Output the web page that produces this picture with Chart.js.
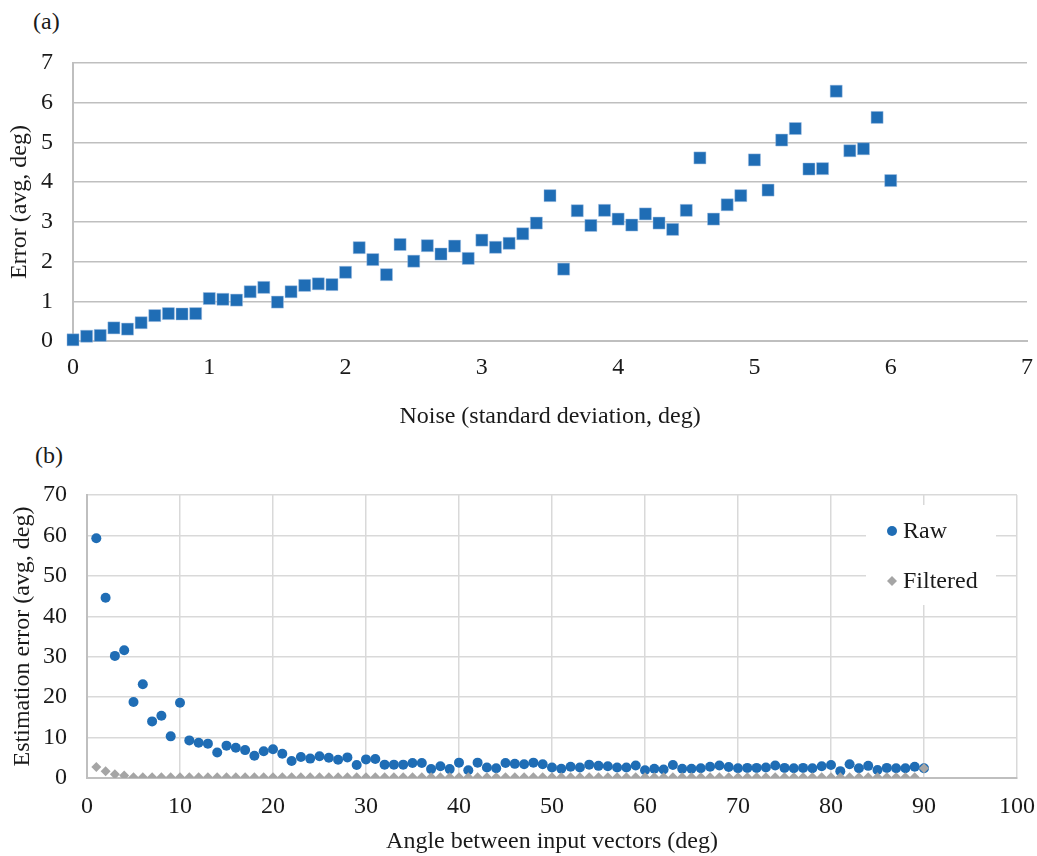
<!DOCTYPE html>
<html>
<head>
<meta charset="utf-8">
<title>Error charts</title>
<script src="https://cdn.jsdelivr.net/npm/chart.js@4.4.1/dist/chart.umd.min.js"></script>
<style>
  body { margin: 0; background: #fff; width: 1037px; height: 856px; overflow: hidden; font-family: 'Liberation Serif', 'Times New Roman', serif; }
  .panel-label { position: absolute; font-size: 24px; color: #1a1a1a; line-height: 28px; }
  .chart-box { position: absolute; left: 0; width: 1037px; }
</style>
</head>
<body>
<div class="panel-label" style="left:33px; top:7px;">(a)</div>
<div class="panel-label" style="left:35px; top:441px;">(b)</div>
<div class="chart-box" style="top:0; height:440px;"><canvas id="noiseChart"></canvas></div>
<div class="chart-box" style="top:440px; height:416px;"><canvas id="angleChart"></canvas></div>

<script>
// (a) average error vs. noise level
const noiseLevels = [
  0.0, 0.1, 0.2, 0.3, 0.4, 0.5, 0.6, 0.7, 0.8, 0.9,
  1.0, 1.1, 1.2, 1.3, 1.4, 1.5, 1.6, 1.7, 1.8, 1.9,
  2.0, 2.1, 2.2, 2.3, 2.4, 2.5, 2.6, 2.7, 2.8, 2.9,
  3.0, 3.1, 3.2, 3.3, 3.4, 3.5, 3.6, 3.7, 3.8, 3.9,
  4.0, 4.1, 4.2, 4.3, 4.4, 4.5, 4.6, 4.7, 4.8, 4.9,
  5.0, 5.1, 5.2, 5.3, 5.4, 5.5, 5.6, 5.7, 5.8, 5.9,
  6.0
];
const noiseError = [
  0.03, 0.12, 0.14, 0.33, 0.30, 0.46, 0.64, 0.69, 0.68, 0.69,
  1.07, 1.05, 1.03, 1.24, 1.35, 0.98, 1.24, 1.40, 1.44, 1.42,
  1.73, 2.35, 2.05, 1.67, 2.43, 2.01, 2.40, 2.19, 2.39, 2.08,
  2.54, 2.36, 2.46, 2.70, 2.97, 3.66, 1.81, 3.28, 2.91, 3.29,
  3.07, 2.92, 3.20, 2.97, 2.81, 3.29, 4.61, 3.07, 3.43, 3.66,
  4.56, 3.80, 5.06, 5.35, 4.33, 4.34, 6.29, 4.79, 4.84, 5.63,
  4.04
];

// (b) estimation error vs. angle between input vectors
const angles = [
  1, 2, 3, 4, 5, 6, 7, 8, 9, 10,
  11, 12, 13, 14, 15, 16, 17, 18, 19, 20,
  21, 22, 23, 24, 25, 26, 27, 28, 29, 30,
  31, 32, 33, 34, 35, 36, 37, 38, 39, 40,
  41, 42, 43, 44, 45, 46, 47, 48, 49, 50,
  51, 52, 53, 54, 55, 56, 57, 58, 59, 60,
  61, 62, 63, 64, 65, 66, 67, 68, 69, 70,
  71, 72, 73, 74, 75, 76, 77, 78, 79, 80,
  81, 82, 83, 84, 85, 86, 87, 88, 89, 90
];
const rawError = [
  59.3, 44.6, 30.2, 31.6, 18.8, 23.2, 14.0, 15.4, 10.3, 18.6,
  9.3, 8.7, 8.5, 6.3, 8.0, 7.5, 6.9, 5.5, 6.6, 7.1,
  6.0, 4.2, 5.2, 4.8, 5.4, 5.0, 4.5, 5.1, 3.2, 4.6,
  4.7, 3.3, 3.3, 3.3, 3.7, 3.7, 2.2, 2.9, 2.2, 3.8,
  1.9, 3.8, 2.6, 2.4, 3.7, 3.5, 3.4, 3.8, 3.4, 2.6,
  2.3, 2.8, 2.6, 3.3, 3.0, 2.9, 2.6, 2.6, 3.1, 1.9,
  2.3, 2.1, 3.2, 2.3, 2.3, 2.4, 2.8, 3.1, 2.7, 2.4,
  2.5, 2.5, 2.6, 3.1, 2.5, 2.4, 2.5, 2.4, 2.9, 3.2,
  1.7, 3.4, 2.4, 3.0, 2.0, 2.5, 2.4, 2.4, 2.8, 2.4
];
const filteredError = [
  2.7, 1.7, 0.9, 0.6, 0.2, 0.2, 0.2, 0.2, 0.2, 0.2,
  0.2, 0.2, 0.2, 0.2, 0.2, 0.2, 0.2, 0.2, 0.2, 0.2,
  0.2, 0.2, 0.2, 0.2, 0.2, 0.2, 0.2, 0.2, 0.2, 0.2,
  0.2, 0.2, 0.2, 0.2, 0.2, 0.2, 0.2, 0.2, 0.2, 0.2,
  0.2, 0.2, 0.2, 0.2, 0.2, 0.2, 0.2, 0.2, 0.2, 0.2,
  0.2, 0.2, 0.2, 0.2, 0.2, 0.2, 0.2, 0.2, 0.2, 0.2,
  0.2, 0.2, 0.2, 0.2, 0.2, 0.2, 0.2, 0.2, 0.2, 0.2,
  0.2, 0.2, 0.2, 0.2, 0.2, 0.2, 0.2, 0.2, 0.2, 0.2,
  0.2, 0.2, 0.2, 0.2, 0.2, 0.2, 0.2, 0.2, 0.2, 2.4
];

const seriesNames = ['Raw', 'Filtered'];

const BLUE = '#1f6db5';
const GREY = '#a5a5a5';
const TEXT = '#1a1a1a';
const serif = "'Liberation Serif', 'Times New Roman', serif";

Chart.defaults.font.family = serif;
Chart.defaults.font.size = 24;
Chart.defaults.color = TEXT;

function toPoints(xs, ys) {
  return xs.map((x, i) => ({ x: x, y: ys[i] }));
}

// x axis: fixed height, and don't let the last tick label push the plot edge in
function fixXAxis(height) {
  return s => {
    s.height = height;
    s.paddingLeft = 0;
    s.paddingRight = 0;
  };
}

// legend sits inside the plot area, on a white patch
const insideLegend = {
  id: 'insideLegend',
  afterDraw(chart) {
    const { ctx, chartArea } = chart;
    const left = chartArea.right - 151;
    const top = chartArea.top + 10;
    ctx.save();
    ctx.fillStyle = '#fff';
    ctx.fillRect(left, top, 130, 100);
    ctx.font = '24px ' + serif;
    ctx.textBaseline = 'middle';
    chart.data.datasets.forEach((ds, i) => {
      const y = chartArea.top + 36 + i * 50;
      const mx = chartArea.right - 125;
      ctx.fillStyle = ds.backgroundColor;
      ctx.beginPath();
      if (ds.pointStyle === 'circle') {
        ctx.arc(mx, y, 5, 0, Math.PI * 2);
      } else {
        ctx.moveTo(mx - 5, y);
        ctx.lineTo(mx, y - 5);
        ctx.lineTo(mx + 5, y);
        ctx.lineTo(mx, y + 5);
        ctx.closePath();
      }
      ctx.fill();
      ctx.fillStyle = TEXT;
      ctx.fillText(ds.label, mx + 11, y + 1);
    });
    ctx.restore();
  }
};

// top chart
new Chart(document.getElementById('noiseChart'), {
  type: 'scatter',
  data: {
    datasets: [{
      data: toPoints(noiseLevels, noiseError),
      pointStyle: 'rect',
      pointRadius: 8.5,
      backgroundColor: BLUE,
      borderColor: 'rgba(160,190,225,0.8)',
      borderWidth: 0.6,
      clip: false
    }]
  },
  options: {
    responsive: true,
    maintainAspectRatio: false,
    animation: false,
    layout: { padding: { top: 63, right: 10, left: 0, bottom: 0 } },
    plugins: { legend: { display: false }, tooltip: { enabled: false } },
    scales: {
      x: {
        type: 'linear', min: 0, max: 7,
        ticks: { stepSize: 1, padding: 12 },
        grid: { display: false, drawTicks: false },
        border: { display: true, color: '#bfbfbf', width: 2 },
        title: { display: true, text: 'Noise (standard deviation, deg)', padding: { top: 0, bottom: 9 } },
        afterFit: fixXAxis(99)
      },
      y: {
        min: 0, max: 7,
        ticks: { stepSize: 1, padding: 20 },
        grid: { color: '#bfbfbf', lineWidth: 1.5, drawTicks: false },
        border: { display: true, color: '#bfbfbf', width: 2 },
        title: { display: true, text: 'Error (avg, deg)', padding: { top: 5, bottom: 0 } },
        afterFit: s => { s.width = 73; }
      }
    }
  }
});

// bottom chart
new Chart(document.getElementById('angleChart'), {
  type: 'scatter',
  data: {
    datasets: [{
      label: seriesNames[0],
      data: toPoints(angles, rawError),
      pointStyle: 'circle',
      pointRadius: 5,
      backgroundColor: BLUE,
      borderWidth: 0,
      order: 1
    }, {
      label: seriesNames[1],
      data: toPoints(angles, filteredError),
      pointStyle: 'rectRot',
      pointRadius: 5,
      backgroundColor: GREY,
      borderWidth: 0,
      order: 0
    }]
  },
  options: {
    responsive: true,
    maintainAspectRatio: false,
    animation: false,
    layout: { padding: { top: 55, right: 20, left: 0, bottom: 0 } },
    plugins: { legend: { display: false }, tooltip: { enabled: false } },
    scales: {
      x: {
        type: 'linear', min: 0, max: 100,
        ticks: { stepSize: 10, padding: 14 },
        grid: { color: '#d9d9d9', lineWidth: 1.5, drawTicks: false },
        border: { display: true, color: '#bfbfbf', width: 2 },
        title: { display: true, text: 'Angle between input vectors (deg)', padding: { top: 0, bottom: 0 } },
        afterFit: fixXAxis(78)
      },
      y: {
        min: 0, max: 70,
        ticks: { stepSize: 10, padding: 20 },
        grid: { color: '#d9d9d9', lineWidth: 1.5, drawTicks: false },
        border: { display: true, color: '#bfbfbf', width: 2 },
        title: { display: true, text: 'Estimation error (avg, deg)', padding: { top: 8, bottom: 0 } },
        afterFit: s => { s.width = 87; }
      }
    }
  },
  plugins: [insideLegend]
});
</script>
</body>
</html>
